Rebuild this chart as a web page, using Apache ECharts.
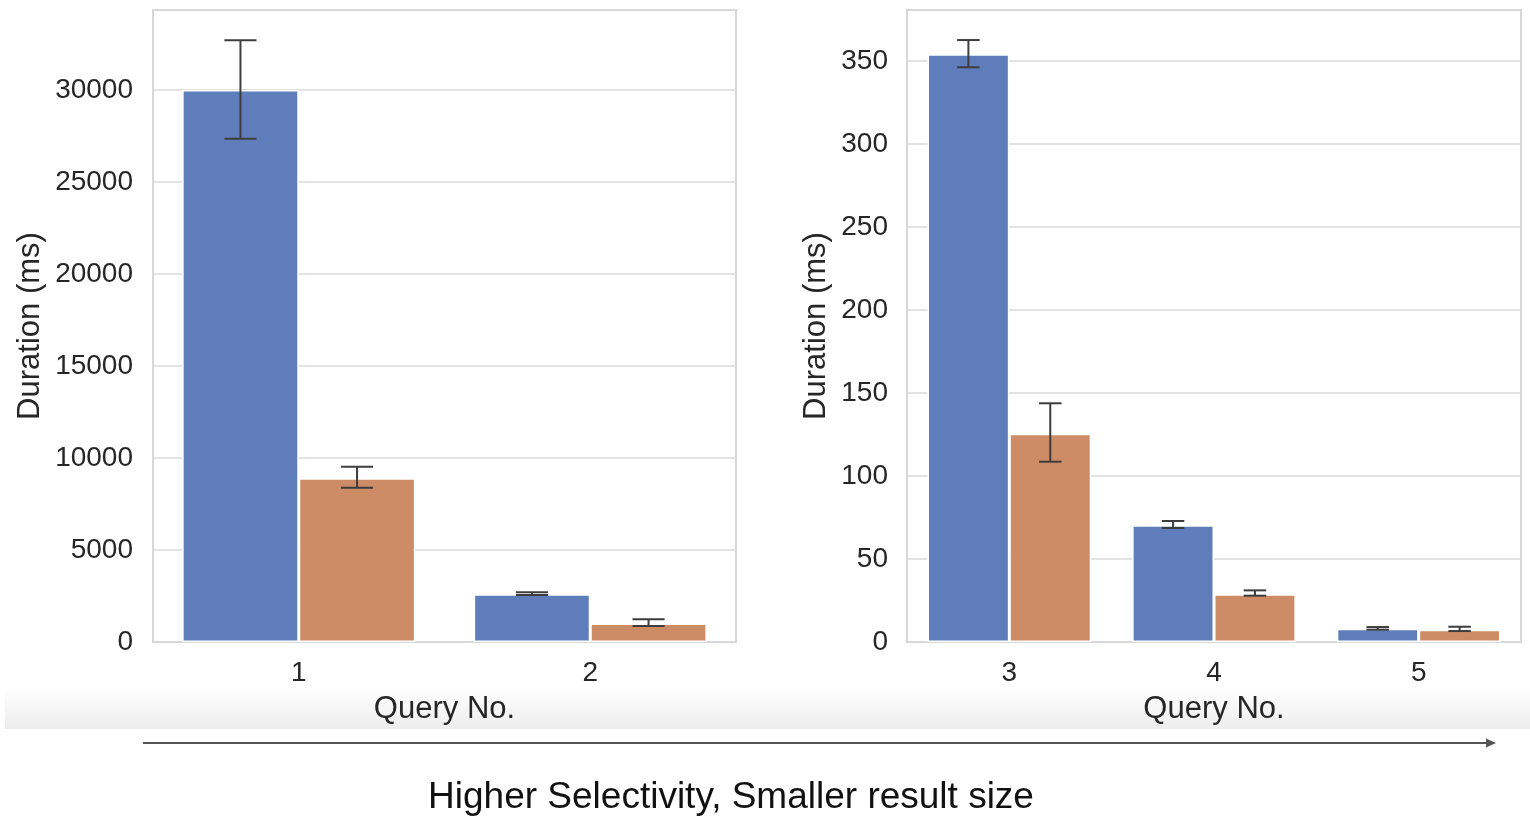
<!DOCTYPE html>
<html>
<head>
<meta charset="utf-8">
<script src="https://cdn.jsdelivr.net/npm/echarts@6/dist/echarts.min.js"></script>
<style>
html,body{margin:0;padding:0;background:#fff;}
#c{width:1530px;height:816px;}
</style>
</head>
<body>
<div id="c"></div>
<script>
// ---- data ----
const queriesLeft = ['1', '2'];
const queriesRight = ['3', '4', '5'];
const seriesNames = ['Method A', 'Method B'];
// mean durations (ms)
const methodALeft = [30000, 2600];
const methodBLeft = [8900, 1000];
const methodARight = [354, 70.3, 8.0];
const methodBRight = [125.5, 28.7, 7.4];
// error bar extents [low, high]
const errALeft = [[27350, 32700], [2555, 2700]];
const errBLeft = [[8390, 9530], [876, 1240]];
const errARight = [[346.2, 362.6], [68.7, 72.9], [7.4, 9.0]];
const errBRight = [[108.6, 143.8], [27.9, 31.1], [6.6, 9.2]];
// axis ranges / ticks
const leftMax = 34350, leftInterval = 5000;
const rightMax = 380.7, rightInterval = 50;

const blue = '#5f7dba';
const orange = '#ce8c66';
const textColor = '#262626';
const font = '"Liberation Sans", Arial, sans-serif';

function errSeries(name, gridIdx, err, offset) {
  return {
    type: 'custom',
    name: name,
    xAxisIndex: gridIdx, yAxisIndex: gridIdx,
    z: 10,
    data: err.map((e, i) => [i, e[0], e[1]]),
    encode: {x: 0, y: [1, 2]},
    renderItem: function (params, api) {
      const idx = api.value(0);
      const band = api.size([1, 0])[0];
      const pLow = api.coord([idx, api.value(1)]);
      const pHigh = api.coord([idx, api.value(2)]);
      const x = pLow[0] + offset * band;
      const cap = band * 0.055;
      const st = {stroke: '#3d3d3d', lineWidth: 2};
      return {
        type: 'group',
        children: [
          {type: 'line', shape: {x1: x, y1: pLow[1], x2: x, y2: pHigh[1]}, style: st},
          {type: 'line', shape: {x1: x - cap, y1: pLow[1], x2: x + cap, y2: pLow[1]}, style: st},
          {type: 'line', shape: {x1: x - cap, y1: pHigh[1], x2: x + cap, y2: pHigh[1]}, style: st}
        ]
      };
    }
  };
}

function barSeries(name, gridIdx, data, color) {
  return {
    type: 'bar', name: name,
    xAxisIndex: gridIdx, yAxisIndex: gridIdx,
    data: data,
    barWidth: '40%', barGap: '0%',
    itemStyle: {color: color, borderColor: '#ffffff', borderWidth: 1.5},
    z: 3
  };
}

function xAxis(gridIdx, cats) {
  return {
    type: 'category', gridIndex: gridIdx, data: cats,
    name: 'Query No.', nameLocation: 'middle', nameGap: 52,
    nameTextStyle: {fontSize: 31, color: textColor, fontFamily: font},
    axisLine: {show: false}, axisTick: {show: false},
    axisLabel: {fontSize: 28, color: textColor, fontFamily: font, margin: 17},
    splitLine: {show: false}
  };
}

function yAxis(gridIdx, max, interval, nameGap, margin) {
  return {
    type: 'value', gridIndex: gridIdx, min: 0, max: max, interval: interval,
    name: 'Duration (ms)', nameLocation: 'middle', nameGap: nameGap,
    nameTextStyle: {fontSize: 31, color: textColor, fontFamily: font},
    axisLine: {show: false}, axisTick: {show: false},
    axisLabel: {fontSize: 28, color: textColor, fontFamily: font, margin: margin, showMaxLabel: false,
      formatter: function (v) { return String(v); }},
    splitLine: {show: true, lineStyle: {color: '#d9d9d9', width: 1.6}}
  };
}

const chart = echarts.init(document.getElementById('c'), null, {renderer: 'canvas'});
chart.setOption({
  backgroundColor: '#ffffff',
  animation: false,
  grid: [
    {left: 153, top: 10, width: 583, height: 632, show: true, borderColor: '#d6d6d6', borderWidth: 2, backgroundColor: 'transparent'},
    {left: 907, top: 10, width: 614, height: 632, show: true, borderColor: '#d6d6d6', borderWidth: 2, backgroundColor: 'transparent'}
  ],
  xAxis: [xAxis(0, queriesLeft), xAxis(1, queriesRight)],
  yAxis: [yAxis(0, leftMax, leftInterval, 107, 20), yAxis(1, rightMax, rightInterval, 75, 19)],
  series: [
    barSeries(seriesNames[0], 0, methodALeft, blue),
    barSeries(seriesNames[1], 0, methodBLeft, orange),
    barSeries(seriesNames[0], 1, methodARight, blue),
    barSeries(seriesNames[1], 1, methodBRight, orange),
    errSeries(seriesNames[0], 0, errALeft, -0.2),
    errSeries(seriesNames[1], 0, errBLeft, 0.2),
    errSeries(seriesNames[0], 1, errARight, -0.2),
    errSeries(seriesNames[1], 1, errBRight, 0.2)
  ],
  graphic: [
    {
      type: 'rect', z: -10, silent: true,
      shape: {x: 5, y: 686, width: 1525, height: 43},
      style: {fill: new echarts.graphic.LinearGradient(0, 0, 0, 1, [
        {offset: 0, color: 'rgba(240,240,240,0)'},
        {offset: 1, color: 'rgba(236,236,236,1)'}
      ])}
    },
    {
      type: 'line', silent: true,
      shape: {x1: 143, y1: 743, x2: 1489, y2: 743},
      style: {stroke: '#555555', lineWidth: 2}
    },
    {
      type: 'polygon', silent: true,
      shape: {points: [[1486, 738.5], [1496, 743], [1486, 747.5]]},
      style: {fill: '#555555'}
    },
    {
      type: 'text', silent: true,
      x: 731, y: 798,
      style: {text: 'Higher Selectivity, Smaller result size', font: '37px ' + font, fill: '#111111', align: 'center', verticalAlign: 'middle'}
    }
  ]
});
</script>
</body>
</html>
